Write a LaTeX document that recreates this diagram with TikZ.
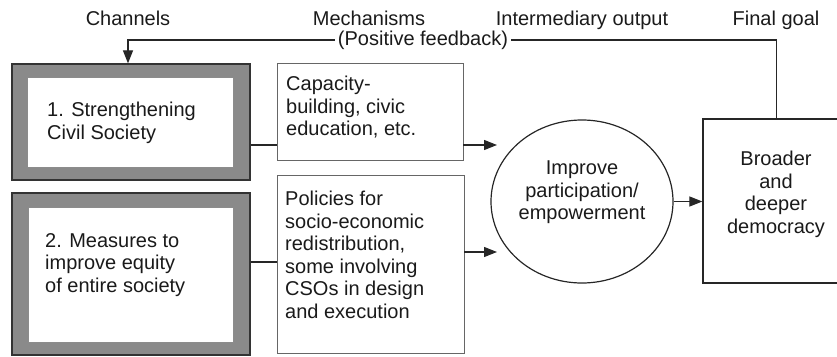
\documentclass[tikz,border=0pt]{standalone}
\usepackage{fontspec}
\setmainfont{Liberation Sans}
\usetikzlibrary{shapes.geometric}
\usetikzlibrary{arrows.meta}
\definecolor{framegray}{HTML}{8A8A8A}
\definecolor{inkgray}{HTML}{1A1A1A}
\tikzset{
	basetext/.style = {
		inner sep=0pt,
		text=inkgray,
		font=\fontsize{20}{22.5}\selectfont
	},
	head/.style = {
		basetext,
		anchor=base
	},
	boxtext/.style = {
		basetext,
		align=left,
		anchor=north west
	},
	midtext/.style = {
		basetext,
		align=center,
		anchor=north
	},
	frame_out/.style = {
		rectangle,
		inner sep=0pt,
		draw=black!80,
		fill=framegray,
		line width=1.2pt
	},
	frame_in/.style = {
		rectangle,
		inner sep=0pt,
		draw=black!45,
		fill=white,
		line width=0.6pt
	},
	mechbox/.style = {
		rectangle,
		inner sep=0pt,
		draw=black!60,
		line width=0.9pt
	},
	goalbox/.style = {
		rectangle,
		inner sep=0pt,
		draw=black!85,
		line width=1.2pt
	},
	outcome/.style = {
		ellipse,
		inner sep=0pt,
		draw=black!85,
		line width=1.2pt
	},
	link/.style = {
		draw=black!85,
		line width=1.1pt
	},
	fbtext/.style = {
		basetext,
		fill=white,
		inner xsep=3pt
	},
}

\begin{document}
\begin{tikzpicture}[x=1pt,y=-1pt,>={Triangle[length=13pt,width=10pt]}]
\useasboundingbox (0,0) rectangle (837,356);

% column heads
\node [head] (hchan) at (128,25) {Channels};
\node [head] (hmech) at (369,25) {Mechanisms};
\node [head] (hinter) at (582,25) {Intermediary output};
\node [head] (hgoal) at (776,25) {Final goal};

% channels
\node [frame_out, minimum width=238pt, minimum height=116pt] (chan1) at (131,122) {};
\node [frame_in, minimum width=206pt, minimum height=90pt] (chan1in) at (130,122) {};
\node [boxtext] (chan1txt) at (47,102) {1. Strengthening\\Civil Society};

\node [frame_out, minimum width=238pt, minimum height=162pt] (chan2) at (131,274) {};
\node [frame_in, minimum width=205pt, minimum height=135pt] (chan2in) at (130.5,274.5) {};
\node [boxtext] (chan2txt) at (45,233) {2. Measures to\\improve equity\\of entire society};

% mechanisms
\node [mechbox, minimum width=186pt, minimum height=97pt] (mech1) at (370,111.5) {};
\node [boxtext] (mech1txt) at (286,76) {Capacity-\\building, civic\\education, etc.};

\node [mechbox, minimum width=187pt, minimum height=178pt] (mech2) at (370.5,264) {};
\node [boxtext] (mech2txt) at (285,191) {Policies for\\socio-economic\\redistribution,\\some involving\\CSOs in design\\and execution};

% intermediary output and goal
\node [outcome, minimum width=182pt, minimum height=163pt] (empower) at (582,201.5) {};
\node [midtext] (empowertxt) at (582,161) {Improve\\participation/\\empowerment};

\node [goalbox, minimum width=147pt, minimum height=164pt] (goal) at (776.5,201) {};
\node [midtext] (goaltxt) at (776,151) {Broader\\and\\deeper\\democracy};

% connectors
\coordinate (in1) at (497,145);
\coordinate (in2) at (497,252);
\coordinate (link2) at (0,262);
\coordinate (fbleft) at (128,40);

\draw [link] (chan1.east |- in1) -- (mech1.west |- in1);
\draw [link] (chan2.east |- link2) -- (mech2.west |- link2);
\draw [link,->] (mech1.east |- in1) -- (in1);
\draw [link,->] (mech2.east |- in2) -- (in2);
\draw [link,->] (empower.east) -- (empower.east -| goal.west);

% feedback loop
\draw [link,->] (goal.north) |- (fbleft) -- (fbleft |- chan1.north);
\node [fbtext] (feedback) at (423,40) {(Positive feedback)};
\end{tikzpicture}
\end{document}
